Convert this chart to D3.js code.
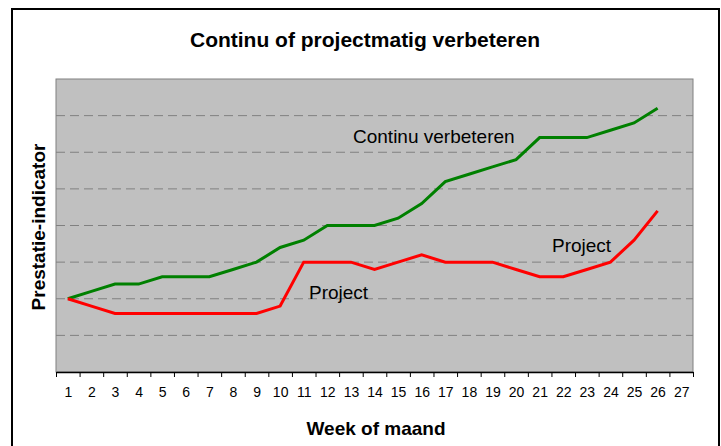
<!DOCTYPE html>
<html lang="nl">
<head>
	<meta charset="UTF-8">
	<title>Continu of projectmatig verbeteren</title>
	<style>
		body { margin: 0; background: #fff; }
		text { font-family: "Liberation Sans", Arial, sans-serif; }
	</style>
</head>
<body>
	<script src="https://cdn.jsdelivr.net/npm/d3@7/dist/d3.min.js"></script>
	<script>
		// data
		var weeks = d3.range(1, 28);   // 1 .. 27
		var continu = [2.0, 2.2, 2.4, 2.4, 2.6, 2.6, 2.6, 2.8, 3.0, 3.4, 3.6, 4.0, 4.0, 4.0,
			4.2, 4.6, 5.2, 5.4, 5.6, 5.8, 6.4, 6.4, 6.4, 6.6, 6.8, 7.2];
		var project = [2.0, 1.8, 1.6, 1.6, 1.6, 1.6, 1.6, 1.6, 1.6, 1.8, 3.0, 3.0, 3.0, 2.8,
			3.0, 3.2, 3.0, 3.0, 3.0, 2.8, 2.6, 2.6, 2.8, 3.0, 3.6, 4.4];
		var gridValues = [1, 2, 3, 4, 5, 6, 7];

		var width = 721, height = 446;
		// plot area edges (note: "top" is a reserved window property, so prefix them)
		var plotLeft = 56, plotRight = 693, plotTop = 79, plotBottom = 372;

		var svg = d3.select("body")
			.append("svg")
			.attr("width", width)
			.attr("height", height);

		// outer frame
		svg.append("rect")
			.attr("x", 12).attr("y", 9)
			.attr("width", 707).attr("height", 450)
			.attr("fill", "#fff")
			.attr("stroke", "#000")
			.attr("stroke-width", 2);

		var x = d3.scaleLinear().domain([0.5, 27.5]).range([plotLeft, plotRight]);
		var y = d3.scaleLinear().domain([0, 8]).range([plotBottom, plotTop]);

		// plot area
		svg.append("rect")
			.attr("x", plotLeft).attr("y", plotTop)
			.attr("width", plotRight - plotLeft).attr("height", plotBottom - plotTop)
			.attr("fill", "#c0c0c0")
			.attr("stroke", "#808080")
			.attr("stroke-width", 1);

		// gridlines
		svg.selectAll(".grid")
			.data(gridValues)
			.enter()
			.append("line")
			.attr("class", "grid")
			.attr("x1", plotLeft).attr("x2", plotRight)
			.attr("y1", function(d) { return y(d); })
			.attr("y2", function(d) { return y(d); })
			.attr("stroke", "#808080")
			.attr("stroke-dasharray", "9,5")
			.attr("stroke-width", 1);

		// x axis: boundary ticks
		var tickAxis = svg.append("g")
			.attr("transform", "translate(0," + plotBottom + ")")
			.call(d3.axisBottom(x)
				.tickValues(d3.range(0.5, 28, 1))
				.tickFormat("")
				.tickSize(5)
				.tickSizeOuter(0));
		tickAxis.select(".domain").attr("stroke", "#000").attr("stroke-width", 1.5);
		tickAxis.selectAll(".tick line").attr("stroke", "#000");

		// x axis: labels at week centres
		var labelAxis = svg.append("g")
			.attr("transform", "translate(0," + plotBottom + ")")
			.call(d3.axisBottom(x)
				.tickValues(weeks)
				.tickFormat(d3.format("d"))
				.tickSize(0)
				.tickPadding(15));
		labelAxis.select(".domain").remove();
		labelAxis.selectAll("text")
			.attr("font-size", 14)
			.attr("font-family", "Liberation Sans, Arial, sans-serif")
			.attr("fill", "#000");

		// lines
		var line = d3.line()
			.x(function(d, i) { return x(i + 1); })
			.y(function(d) { return y(d); });

		svg.append("path")
			.datum(continu)
			.attr("d", line)
			.attr("fill", "none")
			.attr("stroke", "#008000")
			.attr("stroke-width", 3);

		svg.append("path")
			.datum(project)
			.attr("d", line)
			.attr("fill", "none")
			.attr("stroke", "#ff0000")
			.attr("stroke-width", 3);

		// text labels in plot
		svg.append("text")
			.attr("x", 353).attr("y", 143)
			.attr("font-size", 19)
			.text("Continu verbeteren");
		svg.append("text")
			.attr("x", 309).attr("y", 299)
			.attr("font-size", 19)
			.text("Project");
		svg.append("text")
			.attr("x", 552).attr("y", 252)
			.attr("font-size", 19)
			.text("Project");

		// titles
		svg.append("text")
			.attr("x", 365).attr("y", 47)
			.attr("text-anchor", "middle")
			.attr("font-size", 21)
			.attr("font-weight", "bold")
			.text("Continu of projectmatig verbeteren");

		svg.append("text")
			.attr("x", 376).attr("y", 435)
			.attr("text-anchor", "middle")
			.attr("font-size", 19)
			.attr("font-weight", "bold")
			.text("Week of maand");

		svg.append("text")
			.attr("transform", "translate(45,227) rotate(-90)")
			.attr("text-anchor", "middle")
			.attr("font-size", 19)
			.attr("font-weight", "bold")
			.text("Prestatie-indicator");
	</script>
</body>
</html>
